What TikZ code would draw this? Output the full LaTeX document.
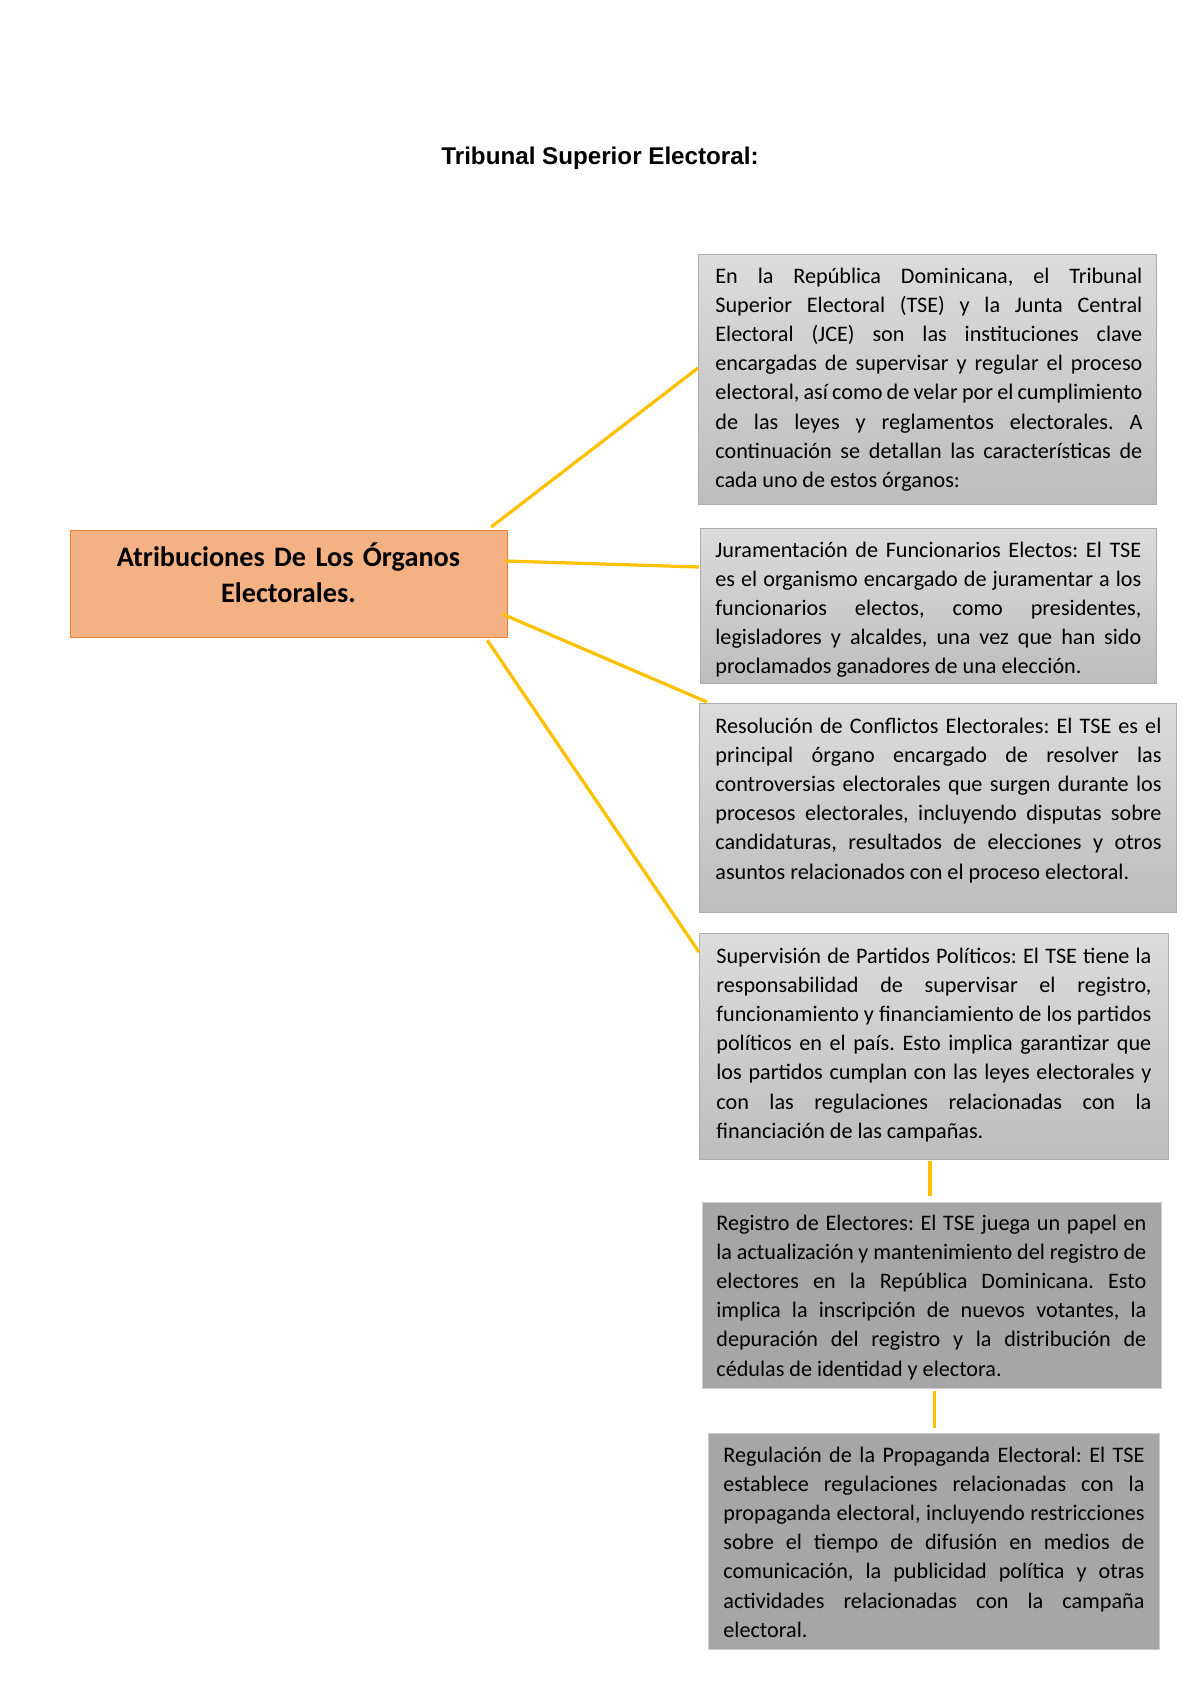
\documentclass[tikz,border=0pt]{standalone}
\usepackage{fontspec}
\setmainfont{Carlito}
\newfontfamily\arialfont{Liberation Sans}
\usetikzlibrary{calc}
\frenchspacing

\definecolor{grayfill}{HTML}{A6A6A6}
\definecolor{graytop}{HTML}{DCDCDC}
\definecolor{graybottom}{HTML}{BDBDBD}
\definecolor{linkyellow}{HTML}{FFC000}
\definecolor{orangefill}{HTML}{F4B183}
\definecolor{orangeline}{HTML}{ED7D31}

\def\pxu{0.4961pt}
\def\bodyfont{\fontsize{11}{14.5}\selectfont\frenchspacing\tolerance=9999\hyphenpenalty=10000%
  \spaceskip=\fontdimen2\font plus \fontdimen3\font minus .45\fontdimen2\font}

\tikzset{
  lightbox/.style={draw=black!32, top color=graytop, bottom color=graybottom, anchor=north west, inner sep=0pt},
  darkbox/.style={draw=black!20, fill=grayfill, anchor=north west, inner sep=0pt},
  mainbox/.style={draw=orangeline, line width=0.6pt, fill=orangefill, anchor=north west, inner sep=0pt},
  bodytext/.style={anchor=base west, inner sep=0pt, align=justify, font=\bodyfont},
  maintext/.style={anchor=base, inner sep=0pt, align=center, text width=200pt, font=\bfseries\fontsize{14}{17.9}\selectfont},
  titletext/.style={anchor=base, inner sep=0pt, font=\arialfont\bfseries\fontsize{12}{14}\selectfont},
  link/.style={draw=linkyellow, line width=1.6pt},
}

\begin{document}
\begin{tikzpicture}[x=0.4961pt, y=-0.4961pt]
			%%%%% START %%%%%
			\useasboundingbox (0,0) rectangle (1200,1696);
			
			\node[titletext] (title) at (600,165) {Tribunal Superior Electoral:};
			
			\node[mainbox, minimum width=437*\pxu, minimum height=107*\pxu] (main) at (70,530) {};
			\node[maintext] (maintitle) at (288.5,566) {Atribuciones De Los Órganos\\Electorales.};
			
			\node[lightbox, minimum width=458*\pxu, minimum height=250*\pxu] (b1) at (698,254) {};
			\node[bodytext, text width=211.8pt] (t1) at (715,283) {En la República Dominicana, el Tribunal\linebreak
				Superior Electoral (TSE) y la Junta Central\linebreak
				Electoral (JCE) son las instituciones clave\linebreak
				encargadas de supervisar y regular el proceso\linebreak
				electoral, así como de velar por el cumplimiento\linebreak
				de las leyes y reglamentos electorales. A\linebreak
				continuación se detallan las características de\linebreak
				cada uno de estos órganos:};
			
			\node[lightbox, minimum width=456*\pxu, minimum height=155*\pxu] (b2) at (700,528) {};
			\node[bodytext, text width=211.3pt] (t2) at (715,557) {Juramentación de Funcionarios Electos: El TSE\linebreak
				es el organismo encargado de juramentar a los\linebreak
				funcionarios electos, como presidentes,\linebreak
				legisladores y alcaldes, una vez que han sido\linebreak
				proclamados ganadores de una elección.};
			
			\node[lightbox, minimum width=477*\pxu, minimum height=209*\pxu] (b3) at (699,703) {};
			\node[bodytext, text width=221.3pt] (t3) at (715,733) {Resolución de Conflictos Electorales: El TSE es el\linebreak
				principal órgano encargado de resolver las\linebreak
				controversias electorales que surgen durante los\linebreak
				procesos electorales, incluyendo disputas sobre\linebreak
				candidaturas, resultados de elecciones y otros\linebreak
				asuntos relacionados con el proceso electoral.};
			
			\node[lightbox, minimum width=469*\pxu, minimum height=226*\pxu] (b4) at (699,933) {};
			\node[bodytext, text width=215.8pt] (t4) at (716,963) {Supervisión de Partidos Políticos: El TSE tiene la\linebreak
				responsabilidad de supervisar el registro,\linebreak
				funcionamiento y financiamiento de los partidos\linebreak
				políticos en el país. Esto implica garantizar que\linebreak
				los partidos cumplan con las leyes electorales y\linebreak
				con las regulaciones relacionadas con la\linebreak
				financiación de las campañas.};
			
			\node[darkbox, minimum width=459*\pxu, minimum height=186*\pxu] (b5) at (702,1202) {};
			\node[bodytext, text width=213.3pt] (t5) at (716,1230) {Registro de Electores: El TSE juega un papel en\linebreak
				la actualización y mantenimiento del registro de\linebreak
				electores en la República Dominicana. Esto\linebreak
				implica la inscripción de nuevos votantes, la\linebreak
				depuración del registro y la distribución de\linebreak
				cédulas de identidad y electora.};
			
			\node[darkbox, minimum width=451*\pxu, minimum height=216*\pxu] (b6) at (708,1433) {};
			\node[bodytext, text width=208.9pt] (t6) at (723,1462) {Regulación de la Propaganda Electoral: El TSE\linebreak
				establece regulaciones relacionadas con la\linebreak
				propaganda electoral, incluyendo restricciones\linebreak
				sobre el tiempo de difusión en medios de\linebreak
				comunicación, la publicidad política y otras\linebreak
				actividades relacionadas con la campaña\linebreak
				electoral.};
			
			% connectors
			\draw[link] ($(main.north east)+(-17,-3)$) -- ($(b1.north west)+(0,114)$);
			\draw[link] ($(main.north east)+(-3,31)$) -- ($(b2.north west)+(-1,39)$);
			\draw[link] ($(main.north east)+(-6,84)$) -- ($(b3.north west)+(8,-1)$);
			\draw[link] ($(main.south east)+(-21,2)$) -- ($(b4.north west)+(0,19)$);
			\draw[link] ($(b4.south)+(-4,1)$) -- ($(b5.north)+(-2,-6)$);
			\draw[link] ($(b5.south)+(2.5,2)$) -- ($(b6.north)+(0.5,-5)$);
			
			%%%%% END %%%%%
\end{tikzpicture}
\end{document}
